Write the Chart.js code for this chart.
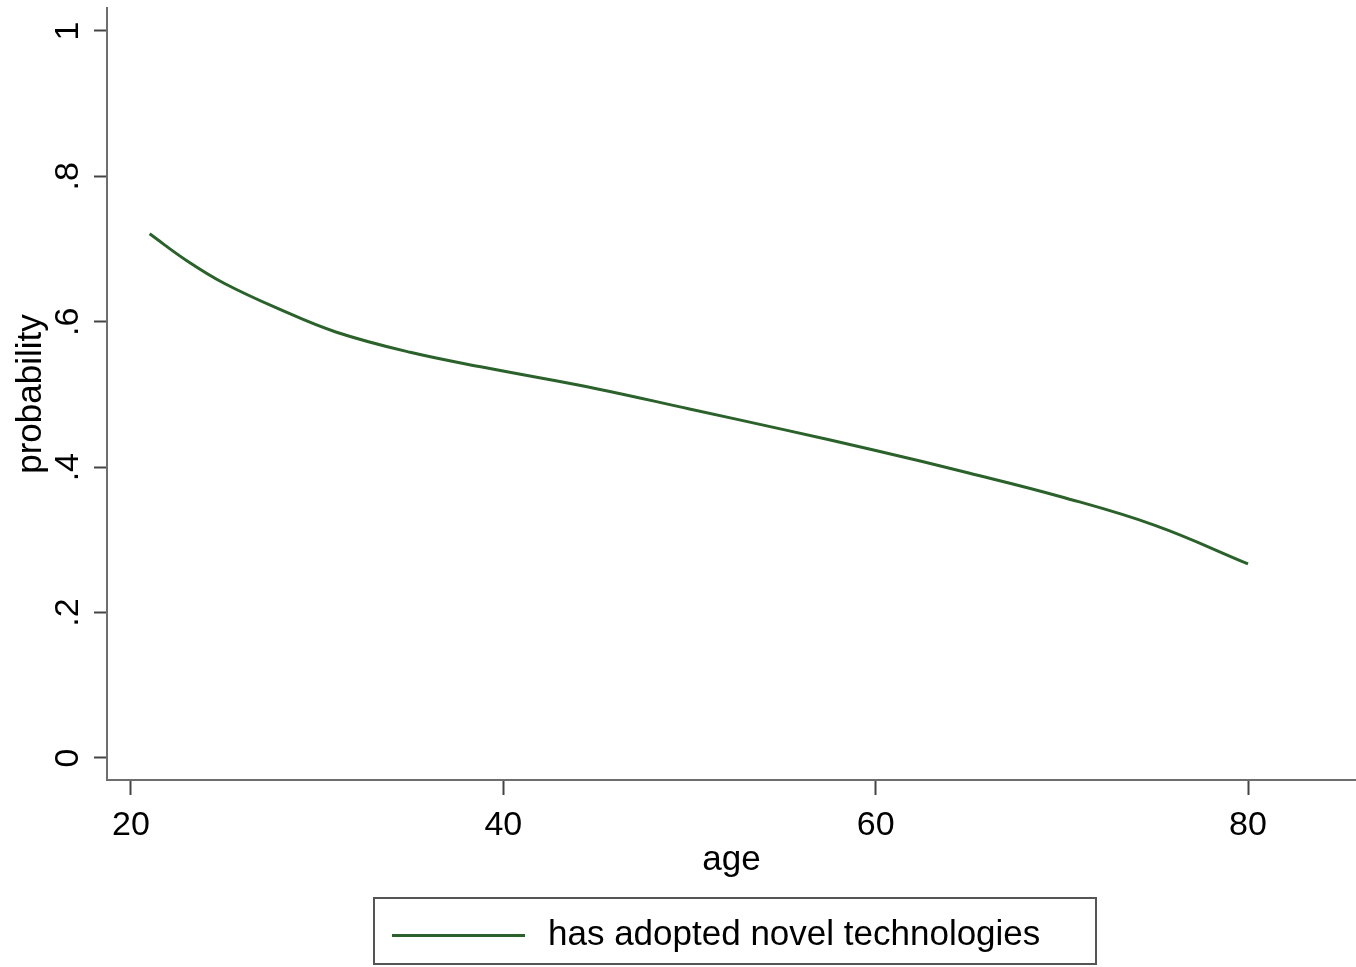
<!DOCTYPE html>
<html>
<head>
<meta charset="utf-8">
<script src="https://cdn.jsdelivr.net/npm/chart.js@4.4.1/dist/chart.umd.min.js"></script>
<style>
    body { margin: 0; background: #fff; }
    #wrap { position: relative; width: 1356px; height: 967px; }
    #legendBox { position: absolute; left: 373px; top: 897px; width: 724px; height: 68px; border: 2px solid #555; box-sizing: border-box; }
    #legendLine { position: absolute; left: 392px; top: 934px; width: 133px; height: 3px; background: #2b622b; }
    #legendText { position: absolute; left: 548px; top: 915px; font: 35px 'Liberation Sans', Arial, sans-serif; line-height: 35px; color: #000; white-space: nowrap; }
</style>
</head>
<body>
<div id="wrap">
    <canvas id="probChart" width="1356" height="967"></canvas>
    <div id="legendBox"></div>
    <div id="legendLine"></div>
    <div id="legendText">has adopted novel technologies</div>
</div>
<script>
// predicted probability by age
const ages = [21, 23, 25, 28, 31, 35, 39, 45, 50, 55, 60, 65, 70, 75, 80];
const probs = [0.721, 0.684, 0.653, 0.617, 0.586, 0.558, 0.537, 0.508, 0.480, 0.452, 0.423, 0.392, 0.359, 0.320, 0.267];

const xTicks = [20, 40, 60, 80];
const yTicks = [0, 0.2, 0.4, 0.6, 0.8, 1];
const yTickLabels = ['0', '.2', '.4', '.6', '.8', '1'];

const seriesLabel = 'has adopted novel technologies';
const lineColor = '#2b622b';
const fontFamily = "'Liberation Sans', Arial, sans-serif";

// stata style y labels, turned to read upwards
const rotatedYLabels = {
    id: 'rotatedYLabels',
    afterDraw(chart) {
        const ctx = chart.ctx;
        const y = chart.scales.y;
        ctx.save();
        ctx.font = '34px ' + fontFamily;
        ctx.fillStyle = '#000';
        ctx.textAlign = 'center';
        ctx.textBaseline = 'alphabetic';
        yTicks.forEach((v, i) => {
            ctx.save();
            ctx.translate(78, y.getPixelForValue(v));
            ctx.rotate(-Math.PI / 2);
            ctx.fillText(yTickLabels[i], 0, 0);
            ctx.restore();
        });
        ctx.restore();
    }
};

const ctx = document.getElementById('probChart').getContext('2d');
const probChart = new Chart(ctx, {
    type: 'line',
    data: {
        datasets: [{
            label: seriesLabel,
            data: ages.map((a, i) => ({ x: a, y: probs[i] })),
            borderColor: lineColor,
            borderWidth: 3,
            pointRadius: 0,
            fill: false,
            tension: 0.4
        }]
    },
    options: {
        responsive: false,
        animation: false,
        layout: { padding: { top: 8, right: 0, left: 0, bottom: 0 } },
        plugins: {
            legend: { display: false },
            tooltip: { enabled: false }
        },
        scales: {
            x: {
                type: 'linear',
                min: 18.711,
                max: 85.8,
                afterBuildTicks: (scale) => { scale.ticks = xTicks.map(v => ({ value: v })); },
                afterFit: (scale) => { scale.height = 187; },
                grid: { drawOnChartArea: false, drawTicks: true, tickLength: 15, tickWidth: 2, tickColor: '#444' },
                border: { color: '#6e6e6e', width: 2 },
                ticks: {
                    font: { size: 34, family: fontFamily },
                    color: '#000',
                    padding: 10,
                    maxRotation: 0,
                    callback: (v) => String(v)
                },
                title: {
                    display: true,
                    text: 'age',
                    color: '#000',
                    font: { size: 35, family: fontFamily },
                    padding: { top: 0, bottom: 86 }
                }
            },
            y: {
                min: -0.0303,
                max: 1.0316,
                afterBuildTicks: (scale) => { scale.ticks = yTicks.map(v => ({ value: v })); },
                afterFit: (scale) => { scale.width = 107; },
                grid: { drawOnChartArea: false, drawTicks: true, tickLength: 13, tickWidth: 2, tickColor: '#444' },
                border: { color: '#6e6e6e', width: 2 },
                ticks: { display: false },
                title: {
                    display: true,
                    text: 'probability',
                    color: '#000',
                    font: { size: 35, family: fontFamily },
                    padding: { top: 10, bottom: 0 }
                }
            }
        }
    },
    plugins: [rotatedYLabels]
});
</script>
</body>
</html>
